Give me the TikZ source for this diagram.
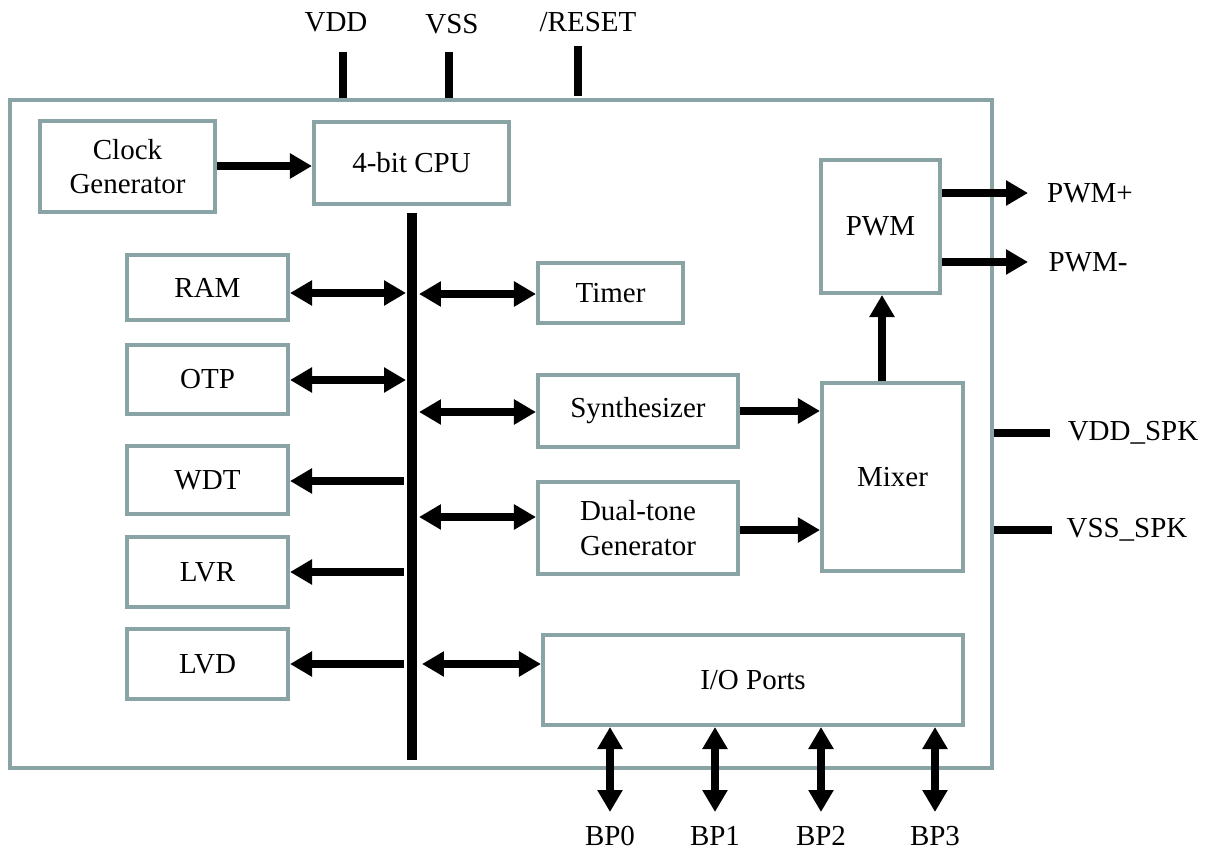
\documentclass[tikz,border=0pt]{standalone}
\usepackage{fontspec}
\setmainfont{Liberation Serif}
\usetikzlibrary{arrows.meta}
\definecolor{boxc}{HTML}{8AA4A6}
\begin{document}
\begin{tikzpicture}[x=0.02cm,y=-0.02cm,
  blk/.style={draw=boxc,line width=2.3pt,fill=white,rectangle,align=center,inner sep=2pt,font=\fontsize{16.5}{19.5}\selectfont},
  lbl/.style={font=\fontsize{16.5}{19.5}\selectfont,inner sep=0pt},
  sig/.style={line width=4pt,-{Triangle[length=0.44cm,width=0.48cm]}},
  bisig/.style={line width=4pt,{Triangle[length=0.44cm,width=0.48cm]}-{Triangle[length=0.44cm,width=0.48cm]}},
  pin/.style={line width=4pt}]
\useasboundingbox (0,0) rectangle (1208,855);
% outer chip
\node[draw=boxc,line width=2.3pt,rectangle,minimum width=982*0.02cm,minimum height=668*0.02cm,inner sep=0pt] (chip) at (501,434) {};
% blocks
\node[blk,minimum width=175*0.02cm,minimum height=91*0.02cm] (clk) at (127.5,166.5) {Clock\\Generator};
\node[blk,minimum width=195*0.02cm,minimum height=82*0.02cm] (cpu) at (411.5,163) {4-bit CPU};
\node[blk,minimum width=161*0.02cm,minimum height=65*0.02cm] (ram) at (207.5,287.5) {RAM};
\node[blk,minimum width=161*0.02cm,minimum height=69*0.02cm] (otp) at (207.5,379.5) {OTP};
\node[blk,minimum width=161*0.02cm,minimum height=68*0.02cm] (wdt) at (207.5,480) {WDT};
\node[blk,minimum width=161*0.02cm,minimum height=70*0.02cm] (lvr) at (207.5,572) {LVR};
\node[blk,minimum width=161*0.02cm,minimum height=70*0.02cm] (lvd) at (207.5,664) {LVD};
\node[blk,minimum width=145*0.02cm,minimum height=60*0.02cm] (timer) at (610.5,293) {Timer};
\node[blk,minimum width=200*0.02cm,minimum height=72*0.02cm] (syn) at (638,411) {Synthesizer};
\node[blk,minimum width=200*0.02cm,minimum height=92*0.02cm] (dual) at (638,528) {Dual-tone\\Generator};
\node[blk,minimum width=141*0.02cm,minimum height=188*0.02cm] (mix) at (892.5,477) {Mixer};
\node[blk,minimum width=119*0.02cm,minimum height=133*0.02cm] (pwm) at (880.5,226.5) {PWM};
\node[blk,minimum width=420*0.02cm,minimum height=90*0.02cm] (io) at (753,680) {I/O Ports};
% bus
\coordinate (busT) at (412,213);
\coordinate (busB) at (412,760);
\draw[line width=6.2pt] (busT) -- (busB);
\coordinate (bRAM) at (406,293);
\coordinate (bTim) at (419,294);
\coordinate (bOTP) at (406,380);
\coordinate (bSyn) at (419,412);
\coordinate (bWDT) at (404,481);
\coordinate (bDual) at (419,517);
\coordinate (bLVR) at (404,572);
\coordinate (bLVD) at (404,664);
\coordinate (bIO) at (422,664);
% connectors
\draw[sig] (clk.east |- 0,166) -- (cpu.west |- 0,166);
\draw[bisig] (ram.east |- bRAM) -- (bRAM);
\draw[bisig] (bTim) -- (timer.west |- bTim);
\draw[bisig] (otp.east |- bOTP) -- (bOTP);
\draw[bisig] (bSyn) -- (syn.west |- bSyn);
\draw[sig] (bWDT) -- (wdt.east |- bWDT);
\draw[bisig] (bDual) -- (dual.west |- bDual);
\draw[sig] (bLVR) -- (lvr.east |- bLVR);
\draw[sig] (bLVD) -- (lvd.east |- bLVD);
\draw[bisig] (bIO) -- (io.west |- bIO);
\draw[sig] (syn.east |- 0,411) -- (mix.west |- 0,411);
\draw[sig] (dual.east |- 0,530) -- (mix.west |- 0,530);
\draw[sig] (mix.north -| 882,0) -- (pwm.south -| 882,0);
% outputs
\node[lbl] (pwmp) at (1090,193) {PWM+};
\node[lbl] (pwmm) at (1088,262) {PWM-};
\coordinate (pwmpE) at (1028,193);
\coordinate (pwmmE) at (1028,262);
\draw[sig] (pwm.east |- pwmpE) -- (pwmpE);
\draw[sig] (pwm.east |- pwmmE) -- (pwmmE);
% speaker pins
\node[lbl] (vddspk) at (1133,433) {VDD\_SPK};
\node[lbl] (vssspk) at (1127,530) {VSS\_SPK};
\coordinate (vddspkE) at (1050,433);
\coordinate (vssspkE) at (1052,530);
\draw[pin] (chip.east |- vddspkE) -- (vddspkE);
\draw[pin] (chip.east |- vssspkE) -- (vssspkE);
% top pins
\node[lbl] (vdd) at (336,22) {VDD};
\node[lbl] (vss) at (452,24) {VSS};
\node[lbl] (rst) at (588,22) {/RESET};
\coordinate (vddE) at (343,52);
\coordinate (vssE) at (449,52);
\coordinate (rstE) at (578,46);
\draw[pin] (vddE) -- (chip.north -| vddE);
\draw[pin] (vssE) -- (chip.north -| vssE);
\draw[pin] (rstE) -- (578,96);
% BP pins
\foreach \n/\xx in {0/610,1/715,2/821,3/935}{
  \coordinate (bp\n E) at (\xx,812);
  \node[lbl] (bp\n) at (\xx,836) {BP\n};
  \draw[bisig] (io.south -| bp\n E) -- (bp\n E);
}
\end{tikzpicture}
\end{document}
